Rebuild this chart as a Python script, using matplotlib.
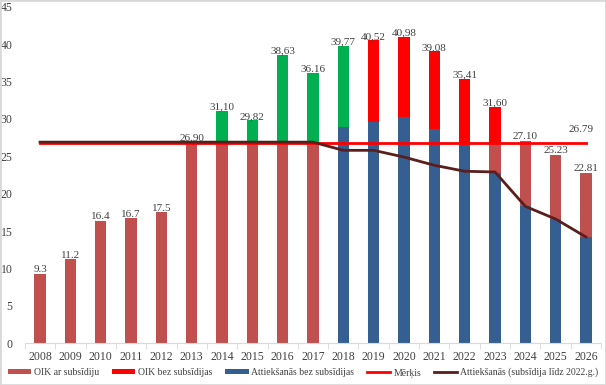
import numpy as np
import matplotlib
matplotlib.use("Agg")
import matplotlib.pyplot as plt
from matplotlib.patches import Patch, Rectangle
from matplotlib.lines import Line2D

# ── colours ──────────────────────────────────────────────────────────────
BROWN = "#C0504D"   # OIK ar subsīdiju
RED   = "#FF0000"   # OIK bez subsīdijas / Mērķis
GREEN = "#00B050"   # extra OIK (no legend entry)
BLUE  = "#365F91"   # Attiekšanās bez subsīdijas
DARK  = "#5A1E1C"   # Attiekšanās (subsīdija līdz 2022.g.)
TEXT  = "#404040"
AXIS  = "#D9D9D9"

# ── data ─────────────────────────────────────────────────────────────────
years = [str(y) for y in range(2008, 2027)]

attieksanas_bez = [0, 0, 0, 0, 0, 0, 0, 0, 0, 0,
                   28.9, 29.6, 30.2, 28.6, 26.5, 22.8, 18.3, 16.6, 14.2]
oik_ar = [9.3, 11.2, 16.4, 16.7, 17.5, 26.9, 26.9, 26.9, 26.9, 26.9,
          0, 0, 0, 0, 0, 4.0, 8.8, 8.63, 8.61]
oik_zals = [0, 0, 0, 0, 0, 0, 4.2, 2.92, 11.73, 9.26,
            10.87, 0, 0, 0, 0, 0, 0, 0, 0]
oik_bez = [0, 0, 0, 0, 0, 0, 0, 0, 0, 0,
           0, 10.92, 10.78, 10.48, 8.91, 4.8, 0, 0, 0]

merkis = [26.79] * 19
attieksanas_sub = [26.9, 26.9, 26.9, 26.9, 26.9, 26.9, 26.9, 26.9, 26.9, 26.9,
                   25.8, 25.8, 24.9, 23.8, 23.0, 22.9, 18.3, 16.6, 14.2]

total_labels = ["9.3", "11.2", "16.4", "16.7", "17.5", "26.90", "31,10", "29,82",
                "38,63", "36.16", "39,77", "40,52", "40,98", "39,08", "35,41",
                "31,60", "27.10", "25.23", "22.81"]
merkis_label = "26.79"

plt.rcParams["font.family"] = ["Liberation Serif", "DejaVu Serif"]

fig = plt.figure(figsize=(6.06, 3.85), dpi=100)
ax = fig.add_axes([0.041, 0.109, 0.951, 0.873])

x = np.arange(len(years))
w = 0.38
b1 = np.array(attieksanas_bez)
b2 = b1 + np.array(oik_ar)
b3 = b2 + np.array(oik_zals)
tops = b3 + np.array(oik_bez)

ax.bar(x, attieksanas_bez, w, color=BLUE, zorder=2)
ax.bar(x, oik_ar, w, bottom=b1, color=BROWN, zorder=2)
ax.bar(x, oik_zals, w, bottom=b2, color=GREEN, zorder=2)
ax.bar(x, oik_bez, w, bottom=b3, color=RED, zorder=2)

ax.plot(x, merkis, color=RED, lw=2.0, zorder=3)
ax.plot(x, attieksanas_sub, color=DARK, lw=2.0, zorder=4,
        solid_joinstyle="round")

for xi, top, lab in zip(x, tops, total_labels):
    ax.text(xi, top - 0.1, lab, ha="center", va="bottom",
            fontsize=8, color=TEXT, zorder=5)
ax.text(x[-1] - 0.15, merkis[-1] + 1.2, merkis_label, ha="center", va="bottom",
        fontsize=8, color=TEXT, zorder=5)

ax.set_xlim(-0.5, len(years) - 0.5)
ax.set_ylim(0, 45)
ax.set_yticks(range(0, 46, 5))
ax.set_xticks(x)
ax.set_xticklabels(years)
ax.set_xticks(np.arange(-0.5, len(years), 1), minor=True)
ax.tick_params(axis="x", which="major", length=0, pad=6, labelsize=8.5,
               colors=TEXT)
ax.tick_params(axis="x", which="minor", length=4, color=AXIS)
ax.tick_params(axis="y", length=0, pad=9, labelsize=8.5, colors=TEXT)

for s in ["top", "right", "left"]:
    ax.spines[s].set_visible(False)
ax.spines["bottom"].set_color(AXIS)

handles = [
    Patch(facecolor=BROWN, label="OIK ar subsīdiju"),
    Patch(facecolor=RED, label="OIK bez subsīdijas"),
    Patch(facecolor=BLUE, label="Attiekšanās bez subsīdijas"),
    Line2D([], [], color=RED, lw=2, label="Mērķis"),
    Line2D([], [], color=DARK, lw=2, label="Attiekšanās (subsīdija līdz 2022.g.)"),
]
fig.legend(handles=handles, loc="center", bbox_to_anchor=(0.5, 0.032), ncol=5,
           frameon=False, fontsize=7, handlelength=2.4, handleheight=0.45,
           handletextpad=0.3, columnspacing=1.3, labelcolor=TEXT)

fig.patches.append(Rectangle((0, 0), 1, 1, transform=fig.transFigure,
                             fill=False, edgecolor=AXIS, lw=2))

fig.savefig("out.png", dpi=100)
